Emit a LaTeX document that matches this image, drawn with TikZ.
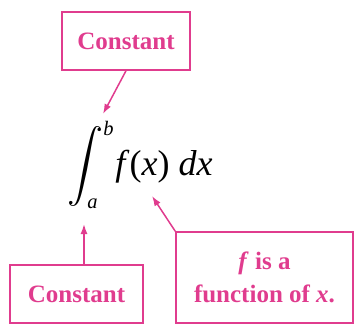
\documentclass[tikz,border=0pt]{standalone}
\usepackage{graphicx}
\usepackage{fontspec}
\setmainfont{Liberation Serif}
\usetikzlibrary{arrows.meta, positioning}
\definecolor{cmagenta}{HTML}{E03C8E}
\newcommand{\limtext}[1]{\mbox{\fontsize{5.7}{7}\selectfont\itshape #1}}
\tikzset{
  every picture/.style={line width=1.5pt},
  labelbox/.style={draw=cmagenta, text=cmagenta, font=\fontsize{25}{33}\selectfont\bfseries, align=center, inner sep=0pt, minimum height=58pt},
  pointer/.style={-{Latex[length=10pt, width=7pt]}, draw=cmagenta, line width=1.5pt},
}

\begin{document}
\begin{tikzpicture}[x=1pt, y=1pt]
  \useasboundingbox (0,0) rectangle (355,325);
  \node[labelbox, minimum width=128pt] (upper) at (126,284) {Constant};
  \node[labelbox, minimum width=133pt] (lower) at (76.5,31) {Constant};
  \node[labelbox, minimum width=177pt, minimum height=91pt] (func) at (264.5,47.5)
    {\textit{f} is a\\function of \textit{x}.};
  \node (integral) at (140,160)
    {\scalebox{3.6}{$\displaystyle\int_{\limtext{a}}^{\limtext{b}}\! \mbox{\textit{f}(\textit{x}) \textit{dx}}$}};
  % arrow ends
  \coordinate (upper tip) at (103,211);
  \coordinate (lower tip) at (84,101);
  \coordinate (func tip) at (152,129);
  \draw[pointer] (upper.south) -- (upper tip);
  \draw[pointer] (lower.north -| lower tip) -- (lower tip);
  \draw[pointer] (func.north west) -- (func tip);
\end{tikzpicture}
\end{document}
